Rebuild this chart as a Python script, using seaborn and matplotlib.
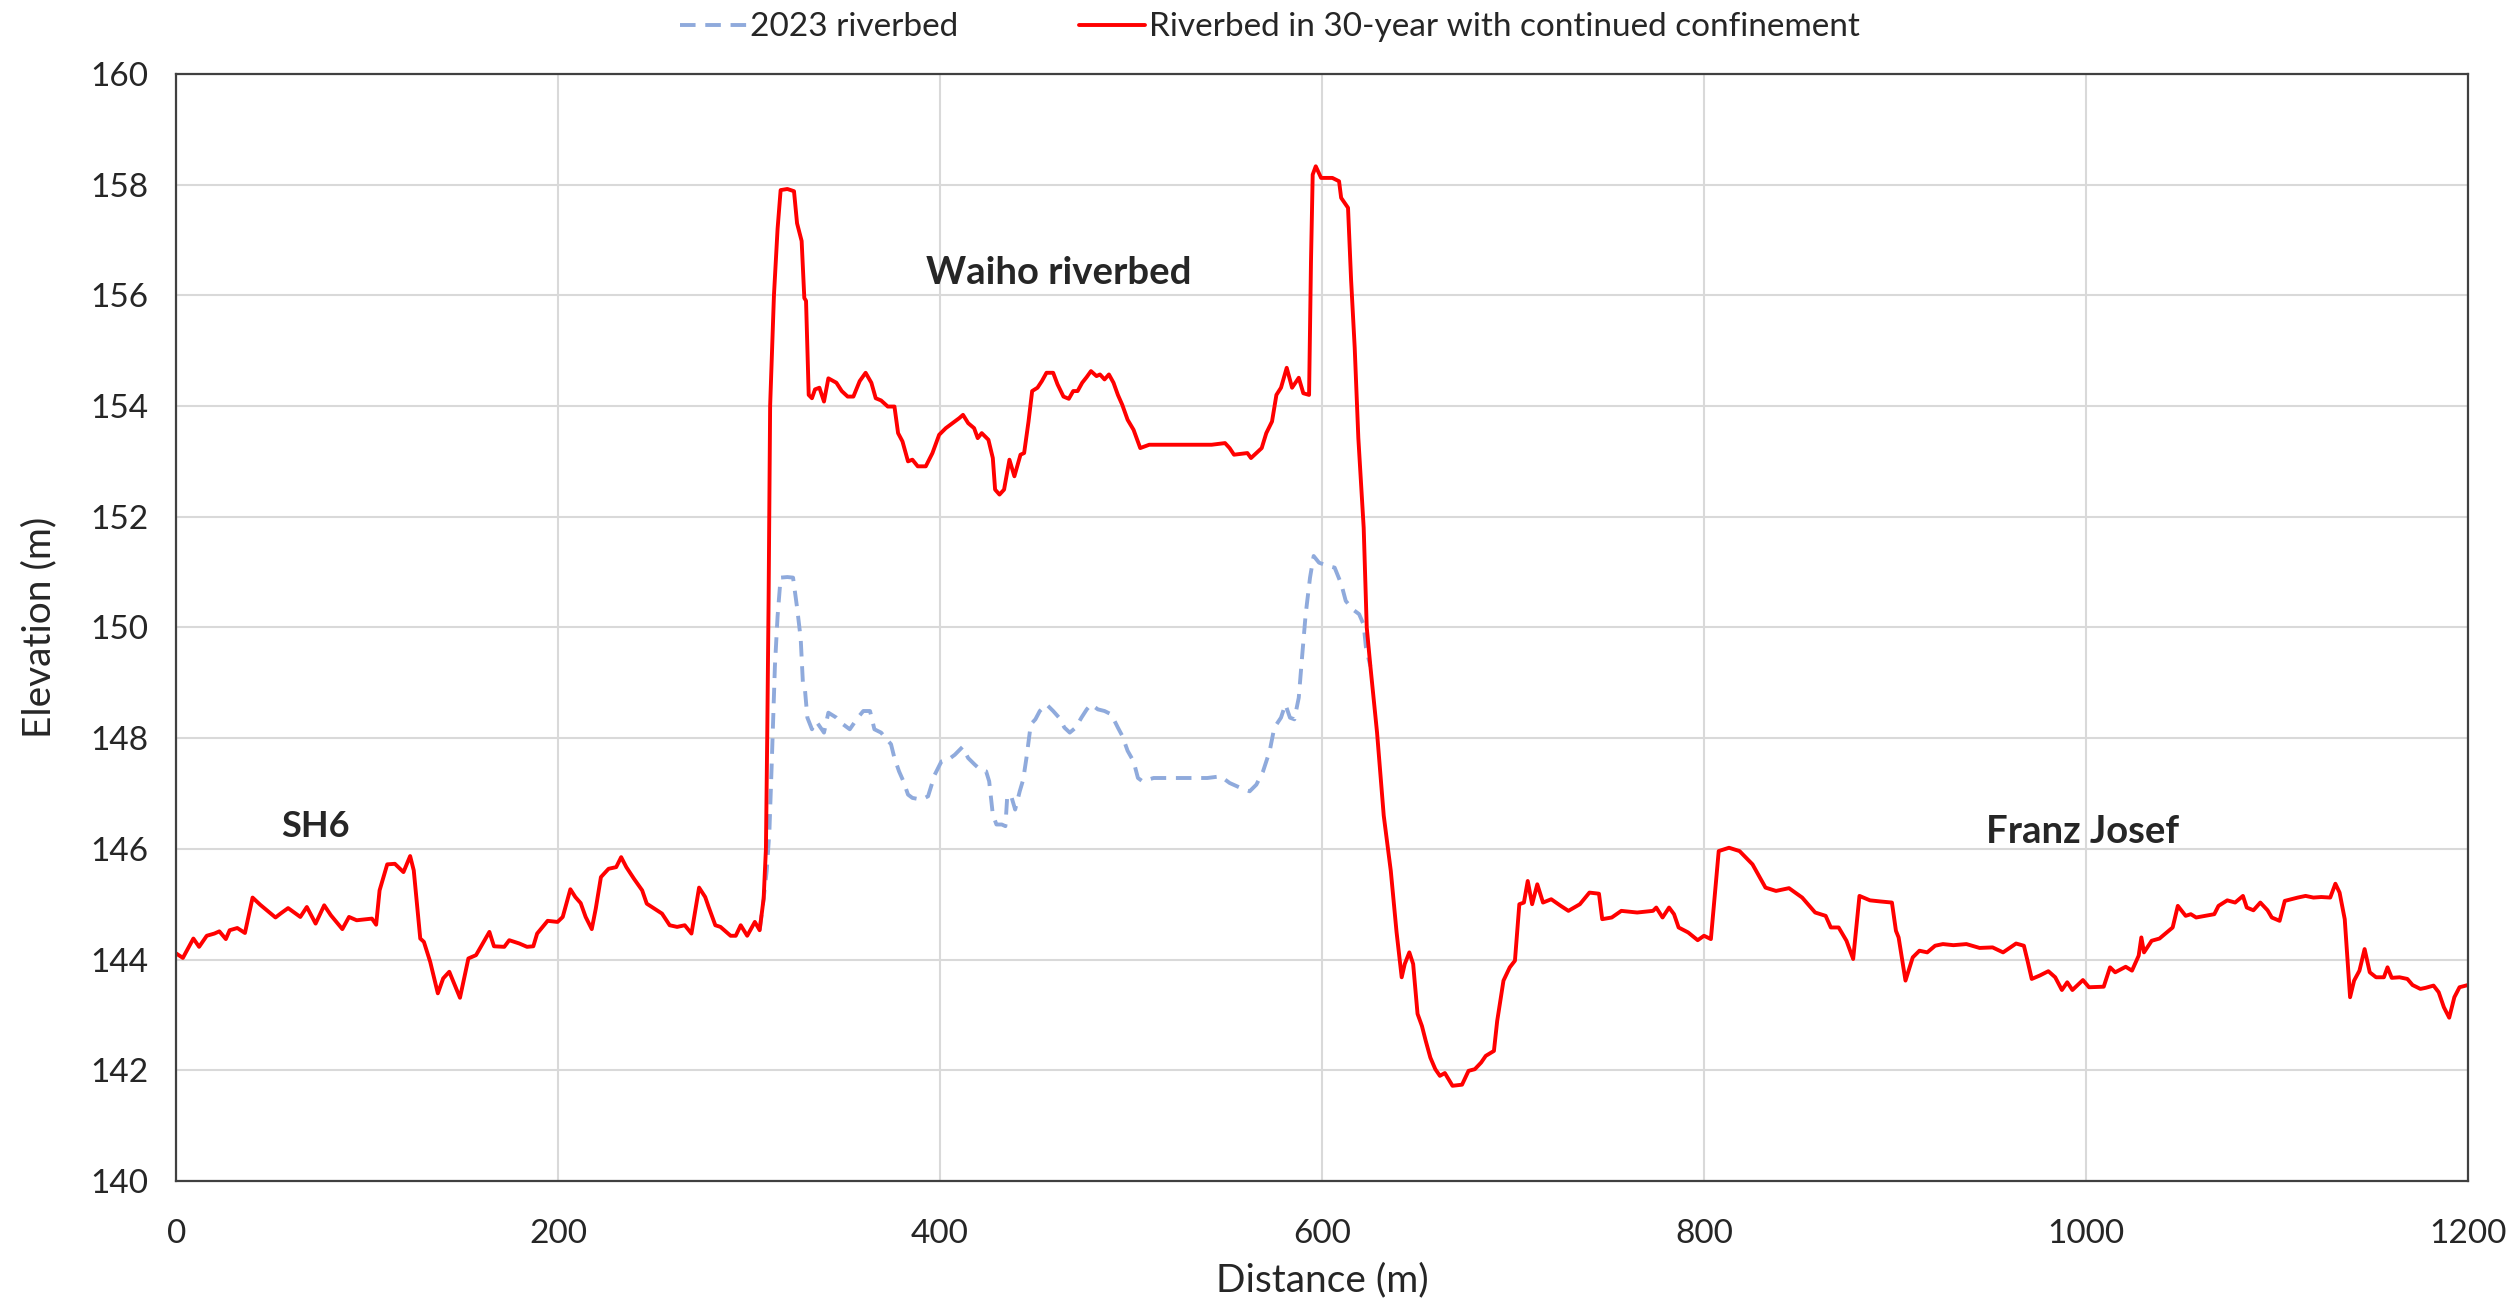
import pandas as pd
import matplotlib.pyplot as plt
import seaborn as sns

# riverbed profile
red_x = [0, 3.5, 9, 12, 16, 20, 22.6, 26, 28, 32, 36, 40, 44, 52, 54.6, 58.6, 62.6, 65, 68.4, 73,
         77.5, 81, 87, 90.5, 94.5, 102.5, 104.7, 106.5, 110.5, 114.5, 119, 122.5, 124.4, 127.8, 129.7,
         133, 137, 139.8, 143, 148.6, 153, 157, 164, 166.4, 171.8, 174.4, 179.7, 183.7, 187, 189,
         194.5, 199.7, 202.4, 206.4, 209, 211.8, 214.4, 217.6, 219.7, 222.4, 226.4, 230.4, 233, 235.7,
         239.7, 244, 246.4, 250.4, 254.4, 258.4, 262.3, 266.3, 269.8, 273.8, 277, 278.8, 282.3, 285,
         290.3, 293, 295.6, 299, 303, 305.5, 307.6, 308.8, 309.5, 310.2, 311, 313, 314.9, 316.5, 320,
         323.5, 325.1, 327.5, 328.9, 329.8, 331.2, 332.9, 334.5, 336.8, 339.2, 341.5, 345.7, 348.5,
         351.6, 354.6, 357.9, 361, 364, 366.3, 369.1, 372.6, 376.1, 378, 380.3, 383.2, 385.5, 388.3,
         392.5, 396, 399.5, 403, 406.5, 410, 412, 414.7, 417.8, 419.7, 421.8, 425.3, 427.6, 428.8,
         431.1, 433.5, 436.3, 438.9, 442.1, 444, 446.3, 448.2, 451, 453.3, 455.7, 459.2, 461.5, 464.6,
         467.4, 469.7, 472, 474.4, 476.7, 479, 481.9, 483.7, 486.1, 488.4, 490.8, 493.1, 495.4, 498.2,
         501.3, 504.8, 509.5, 518.8, 530.5, 542.2, 549.2, 551.6, 553.9, 560.9, 562.8, 565.6, 568.4,
         570.8, 573.8, 576.1, 578.5, 581.5, 584.3, 587.8, 590.2, 593.2, 594.2, 595.1, 596.7, 599.5,
         605.4, 608.9, 610, 613.6, 615.2, 617.1, 619, 620.6, 621.8, 623.4, 625.3, 628.8, 632.3, 634.5,
         636, 639, 641.7, 643.3, 645.7, 647.7, 650, 652.3, 654.3, 656.7, 659.3, 661.7, 664.3, 668.3,
         673.3, 676.7, 680, 683.3, 685.7, 690, 691.7, 695, 698.3, 701, 703.3, 705.7, 707.7, 710, 712.7,
         715.7, 720, 725, 729, 735, 740, 745, 746.7, 751.7, 756.7, 765, 773.3, 775, 778.3, 781.7,
         784.3, 786.7, 791.7, 796.7, 800, 803.6, 807.7, 813.1, 818.6, 825.4, 832.2, 837.7, 844.5,
         851.4, 858.2, 863.7, 866.4, 870.5, 874.6, 878.1, 881.4, 886.9, 892.3, 898.4, 900.5, 901.9,
         905.5, 909.3, 912.8, 916.9, 921, 925.1, 930.6, 937.4, 944.3, 951.1, 956.6, 963.4, 967.5,
         969.4, 971.6, 975.7, 980.3, 983.9, 987.4, 990.2, 992.9, 998.4, 1001.6, 1009.3, 1012.6,
         1015.3, 1020.8, 1024.1, 1027.6, 1029, 1030.4, 1034.4, 1038.5, 1045.4, 1048.1, 1052.2,
         1054.9, 1057.7, 1067.2, 1069.4, 1074, 1078.1, 1082.2, 1084.2, 1087.7, 1091.3, 1095.1,
         1097.3, 1101.4, 1104.1, 1110.9, 1115, 1119.1, 1123.2, 1127.9, 1130.6, 1132.8, 1135.5,
         1138.3, 1140.4, 1143.2, 1145.9, 1148.6, 1151.9, 1156, 1157.9, 1160.1, 1164.2, 1168.3, 1171,
         1175.1, 1177.9, 1182, 1184.7, 1187.4, 1190.2, 1192.9, 1195.6, 1200]
red_y = [144.11, 144.03, 144.38, 144.23, 144.43, 144.47, 144.51, 144.37, 144.53, 144.57, 144.48, 145.12,
         144.99, 144.76, 144.83, 144.93, 144.83, 144.77, 144.95, 144.65, 144.98, 144.80, 144.55, 144.77,
         144.71, 144.74, 144.63, 145.25, 145.72, 145.73, 145.58, 145.87, 145.61, 144.38, 144.32, 143.96,
         143.39, 143.66, 143.78, 143.31, 144.02, 144.08, 144.50, 144.24, 144.23, 144.35, 144.29, 144.23,
         144.24, 144.47, 144.70, 144.68, 144.77, 145.27, 145.13, 145.02, 144.77, 144.55, 144.92, 145.49,
         145.64, 145.67, 145.85, 145.67, 145.46, 145.25, 145.01, 144.92, 144.83, 144.62, 144.59, 144.62,
         144.47, 145.30, 145.13, 144.95, 144.62, 144.59, 144.43, 144.43, 144.62, 144.43, 144.68, 144.53,
         145.10, 146.0, 148.1, 150.5, 154.0, 156.0, 157.2, 157.9, 157.92, 157.88, 157.3, 156.98, 155.95,
         155.9, 154.2, 154.14, 154.3, 154.33, 154.08, 154.5, 154.42, 154.27, 154.17, 154.17, 154.45,
         154.6, 154.42, 154.14, 154.1, 153.99, 153.99, 153.51, 153.36, 153.0, 153.03, 152.91, 152.91,
         153.15, 153.48, 153.6, 153.69, 153.78, 153.84, 153.69, 153.6, 153.42, 153.51, 153.39, 153.06,
         152.49, 152.4, 152.49, 153.03, 152.73, 153.12, 153.15, 153.72, 154.27, 154.33, 154.45, 154.6,
         154.6, 154.39, 154.17, 154.13, 154.27, 154.27, 154.42, 154.52, 154.63, 154.54, 154.57, 154.48,
         154.57, 154.42, 154.2, 154.02, 153.75, 153.57, 153.24, 153.3, 153.3, 153.3, 153.3, 153.33,
         153.24, 153.12, 153.15, 153.06, 153.15, 153.24, 153.51, 153.72, 154.2, 154.33, 154.69, 154.33,
         154.51, 154.23, 154.2, 156.6, 158.18, 158.33, 158.12, 158.12, 158.06, 157.76, 157.58, 156.28,
         155.05, 153.42, 152.5, 151.8, 150.0, 149.3, 148.1, 146.6, 146.0, 145.6, 144.5, 143.68, 143.92,
         144.13, 143.92, 143.02, 142.8, 142.53, 142.23, 142.02, 141.9, 141.95, 141.72, 141.74, 141.99,
         142.02, 142.14, 142.26, 142.35, 142.89, 143.62, 143.86, 143.98, 145.0, 145.03, 145.42, 145.0,
         145.36, 145.03, 145.09, 144.97, 144.88, 145.0, 145.21, 145.19, 144.73, 144.76, 144.88, 144.85,
         144.88, 144.94, 144.76, 144.94, 144.82, 144.58, 144.49, 144.35, 144.43, 144.37, 145.96, 146.02,
         145.96, 145.72, 145.3, 145.24, 145.29, 145.12, 144.85, 144.79, 144.58, 144.58, 144.34, 144.01,
         145.15, 145.07, 145.05, 145.03, 144.52, 144.4, 143.62, 144.04, 144.16, 144.13, 144.25, 144.28,
         144.26, 144.28, 144.21, 144.22, 144.13, 144.29, 144.25, 143.98, 143.65, 143.71, 143.79, 143.68,
         143.45, 143.59, 143.45, 143.63, 143.5, 143.51, 143.86, 143.77, 143.87, 143.8, 144.07, 144.4,
         144.13, 144.34, 144.38, 144.58, 144.97, 144.79, 144.82, 144.76, 144.82, 144.97, 145.07, 145.03,
         145.15, 144.94, 144.89, 145.03, 144.89, 144.76, 144.7, 145.06, 145.12, 145.15, 145.12, 145.13,
         145.12, 145.37, 145.21, 144.73, 143.32, 143.62, 143.8, 144.19, 143.77, 143.68, 143.68, 143.86,
         143.67, 143.68, 143.65, 143.54, 143.47, 143.49, 143.53, 143.41, 143.14, 142.95, 143.32, 143.5,
         143.54]

# 2023 riverbed (only the stretch where it departs from the confined profile)
blue_x = [305.5, 307.6, 309.2, 310.6, 311.8, 313.5, 314.9, 316.5, 320, 323, 325.1, 327, 328.2, 329.3,
          330.5, 332.9, 335.2, 339.2, 341.5, 345.7, 349.2, 352.7, 356.9, 359.8, 363.3, 365.6, 369.1,
          371.5, 374.3, 376.1, 378.5, 380.8, 383.2, 385.5, 390.2, 393.7, 397.2, 400.7, 404.2, 407.7,
          411.7, 414.7, 418.2, 421.1, 424.1, 425.7, 427.6, 429.5, 432.3, 434.2, 435.1, 437, 439.3,
          441.7, 443.5, 445.2, 447.5, 449.9, 452.2, 455.7, 459.2, 462.3, 465.1, 467.9, 471, 474, 476.8,
          479.1, 482.6, 486.1, 489.6, 493.1, 495.4, 498.2, 501.3, 503.6, 506, 511.8, 521.1, 530.5,
          539.9, 546.9, 551.6, 557.4, 562.1, 565.6, 569.1, 572.6, 575, 578.5, 580.8, 583.2, 585.5,
          587.8, 589.5, 591.4, 593.7, 595.6, 598.4, 603.1, 606.6, 610.1, 612.4, 615.9, 619.4, 621.8,
          623, 625.3]
blue_y = [144.53, 145.10, 145.6, 146.3, 147.5, 149.3, 150.2, 150.9, 150.91, 150.9, 150.36, 149.8,
          148.97, 148.85, 148.37, 148.16, 148.3, 148.1, 148.46, 148.37, 148.25, 148.16, 148.37, 148.49,
          148.49, 148.16, 148.1, 148.0, 147.89, 147.64, 147.4, 147.22, 146.98, 146.92, 146.89, 146.95,
          147.34, 147.58, 147.61, 147.7, 147.84, 147.64, 147.52, 147.43, 147.4, 147.22, 146.62, 146.44,
          146.44, 146.41, 146.92, 146.98, 146.71, 147.04, 147.25, 147.64, 148.25, 148.34, 148.49, 148.61,
          148.49, 148.37, 148.19, 148.1, 148.19, 148.37, 148.52, 148.61, 148.52, 148.49, 148.43, 148.19,
          148.04, 147.77, 147.58, 147.28, 147.22, 147.28, 147.28, 147.28, 147.28, 147.31, 147.19, 147.1,
          147.04, 147.16, 147.4, 147.77, 148.19, 148.37, 148.61, 148.37, 148.34, 148.73, 149.45, 150.23,
          150.9, 151.29, 151.17, 151.11, 151.08, 150.78, 150.48, 150.33, 150.24, 150.05, 149.63, 149.3]

labels = ['2023 riverbed', 'Riverbed in 30-year with continued confinement']

df_red = pd.DataFrame({'Distance (m)': red_x, 'Elevation (m)': red_y})
df_blue = pd.DataFrame({'Distance (m)': blue_x, 'Elevation (m)': blue_y})

sns.set_style('white')
plt.rcParams['font.family'] = ['Lato', 'DejaVu Sans']

fig, ax = plt.subplots(figsize=(25.17, 13.07), dpi=100)
fig.subplots_adjust(left=0.0700, right=0.9805, top=0.9435, bottom=0.0964)

sns.lineplot(data=df_blue, x='Distance (m)', y='Elevation (m)', estimator=None, sort=False,
             color='#8FAADC', linewidth=2.8, linestyle=(0, (4, 2.5)), label=labels[0], ax=ax)
sns.lineplot(data=df_red, x='Distance (m)', y='Elevation (m)', estimator=None, sort=False,
             color='#FF0000', linewidth=2.8, label=labels[1], ax=ax)

ax.set_xlim(0, 1200)
ax.set_ylim(140, 160)
ax.set_xticks(range(0, 1201, 200))
ax.set_yticks(range(140, 161, 2))
ax.grid(True, color='#d9d9d9', linewidth=1.5)
ax.set_axisbelow(True)
for s in ax.spines.values():
    s.set_color('#404040')
    s.set_linewidth(1.6)
ax.tick_params(length=0, labelsize=24, colors='#262626')
ax.tick_params(axis='x', pad=27)
ax.tick_params(axis='y', pad=20)
ax.set_xlabel('Distance (m)', fontsize=28, color='#262626', labelpad=10)
ax.set_ylabel('Elevation (m)', fontsize=28, color='#262626', labelpad=24)

ax.text(73, 146.4, 'SH6', fontsize=26, fontweight='bold', ha='center', va='center')
ax.text(462, 156.4, 'Waiho riverbed', fontsize=27.5, fontweight='bold', ha='center', va='center')
ax.text(998, 146.3, 'Franz Josef', fontsize=27.5, fontweight='bold', ha='center', va='center')

h, l = ax.get_legend_handles_labels()
ax.get_legend().remove()
fig.legend(h, l, loc='center', bbox_to_anchor=(0.5045, 0.979), ncol=2, frameon=False,
           fontsize=24, handlelength=2.0, handletextpad=0.1, columnspacing=3.6)

plt.savefig('out.png', dpi=100)
